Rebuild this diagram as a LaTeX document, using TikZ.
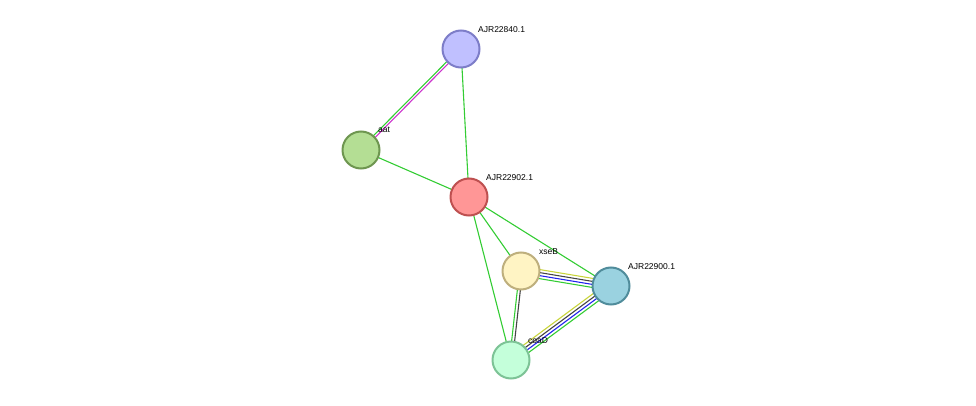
\documentclass[tikz,border=0pt]{standalone}
\usepackage{fontspec}
\setmainfont{Liberation Sans}
\usetikzlibrary{calc}
\definecolor{eg}{HTML}{33CC33}
\definecolor{ey}{HTML}{C8D43A}
\definecolor{eb}{HTML}{2222EE}
\definecolor{ed}{HTML}{444444}
\definecolor{em}{HTML}{CC33CC}
\begin{document}
\begin{tikzpicture}[x=1pt,y=-1pt,
  prot/.style={circle,minimum size=37pt,inner sep=0pt,line width=2pt},
  lab/.style={font=\fontsize{8.5}{10}\selectfont,anchor=south west,inner sep=1pt},
  e/.style={line width=1.1pt}]
\useasboundingbox (0,0) rectangle (976,406);
\newcommand\myedge[4]{\draw[e,#4] ($(#1)!#3!90:(#2)$) -- ($(#2)!#3!-90:(#1)$);}
\coordinate (p840) at (461,49);
\coordinate (paat) at (361,150);
\coordinate (p902) at (469,197);
\coordinate (pxse) at (521,271);
\coordinate (p900) at (611,286);
\coordinate (pcoa) at (511,360);
% edges
\myedge{p840}{paat}{1.2pt}{em}
\myedge{p840}{paat}{-1.2pt}{eg}
\draw[e,eg] (p840) -- (p902);
\draw[e,eg] (paat) -- (p902);
\draw[e,eg] (p902) -- (pxse);
\draw[e,eg] (p902) -- (p900);
\draw[e,eg] (p902) -- (pcoa);
\myedge{pxse}{p900}{4.5pt}{ey}
\myedge{pxse}{p900}{1.5pt}{ed}
\myedge{pxse}{p900}{-1.5pt}{eb}
\myedge{pxse}{p900}{-4.5pt}{eg}
\myedge{p900}{pcoa}{4.5pt}{eg}
\myedge{p900}{pcoa}{1.5pt}{eb}
\myedge{p900}{pcoa}{-1.5pt}{ed}
\myedge{p900}{pcoa}{-4.5pt}{ey}
\myedge{pxse}{pcoa}{1.5pt}{ed}
\myedge{pxse}{pcoa}{-1.5pt}{eg}
% nodes
\node[prot,fill={rgb,255:red,192;green,192;blue,255},draw={rgb,255:red,125;green,125;blue,200}] (n840) at (p840) {};
\node[prot,fill={rgb,255:red,180;green,222;blue,148},draw={rgb,255:red,110;green,150;blue,80}] (naat) at (paat) {};
\node[prot,fill={rgb,255:red,255;green,150;blue,150},draw={rgb,255:red,190;green,80;blue,80}] (n902) at (p902) {};
\node[prot,fill={rgb,255:red,255;green,244;blue,196},draw={rgb,255:red,190;green,175;blue,125}] (nxse) at (pxse) {};
\node[prot,fill={rgb,255:red,154;green,210;blue,224},draw={rgb,255:red,80;green,140;blue,155}] (n900) at (p900) {};
\node[prot,fill={rgb,255:red,196;green,255;blue,218},draw={rgb,255:red,125;green,195;blue,150}] (ncoa) at (pcoa) {};
% labels
\node[lab] (l840) at (477,34) {AJR22840.1};
\node[lab] (laat) at (377,134) {aat};
\node[lab] (l902) at (485,182) {AJR22902.1};
\node[lab] (lxse) at (538,256) {xseB};
\node[lab] (l900) at (627,271) {AJR22900.1};
\node[lab] (lcoa) at (527,345) {coaD};
\end{tikzpicture}
\end{document}
